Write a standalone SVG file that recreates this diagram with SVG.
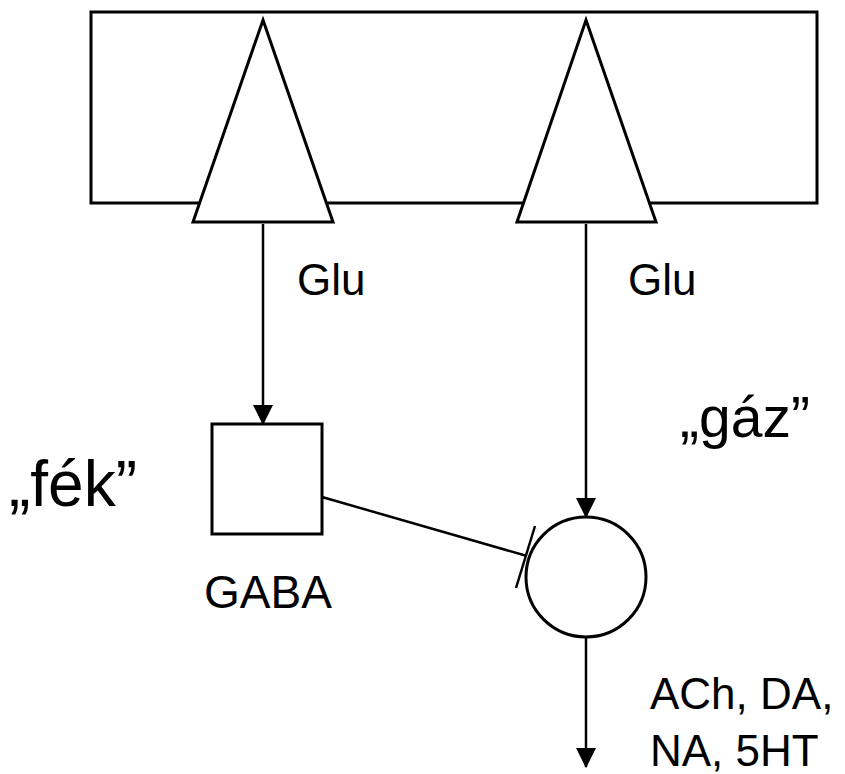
<svg xmlns="http://www.w3.org/2000/svg" width="845" height="774" viewBox="0 0 845 774">
<style>
.shape{fill:#fff;stroke:#000;stroke-width:3}
.conn{fill:none;stroke:#000;stroke-width:2.5}
.lbl{font-family:"Liberation Sans",Arial,sans-serif;fill:#000}
.small{font-size:44px}
</style>
<defs>
<marker id="arr" markerUnits="userSpaceOnUse" markerWidth="20" markerHeight="20" viewBox="0 0 18 18" refX="17" refY="9" orient="auto">
<path d="M0,0 L18,9 L0,18 Z" fill="#000"/>
</marker>
</defs>
<rect width="845" height="774" fill="#fff"/>
<g id="cortex">
<rect class="shape" x="91" y="12" width="726" height="191"/>
</g>
<g id="neuron-left">
<polygon class="shape" points="263,20 333,222 193,222"/>
</g>
<g id="neuron-right">
<polygon class="shape" points="586,20 656,222 517,222"/>
</g>
<g id="gaba">
<rect class="shape" x="212" y="424" width="110" height="110"/>
<text class="lbl" font-size="46" x="204" y="608">GABA</text>
</g>
<g id="target">
<circle class="shape" cx="586" cy="577" r="60"/>
</g>
<g id="connectors">
<line class="conn" x1="263" y1="224" x2="263" y2="424" marker-end="url(#arr)"/>
<line class="conn" x1="586" y1="224" x2="586" y2="517" marker-end="url(#arr)"/>
<line class="conn" x1="322" y1="497" x2="527" y2="556"/>
<line class="conn" x1="535" y1="526" x2="516" y2="588"/>
<line class="conn" x1="586" y1="637" x2="586" y2="767" marker-end="url(#arr)"/>
</g>
<g id="labels">
<text class="lbl small" x="297" y="295">Glu</text>
<text class="lbl small" x="628" y="295">Glu</text>
<text class="lbl small" x="650" y="709">ACh, DA,</text>
<text class="lbl small" x="650" y="766">NA, 5HT</text>
<text class="lbl" font-size="57" x="680" y="437">„gáz”</text>
<text class="lbl" font-size="64" x="9" y="506">„fék”</text>
</g>
</svg>
